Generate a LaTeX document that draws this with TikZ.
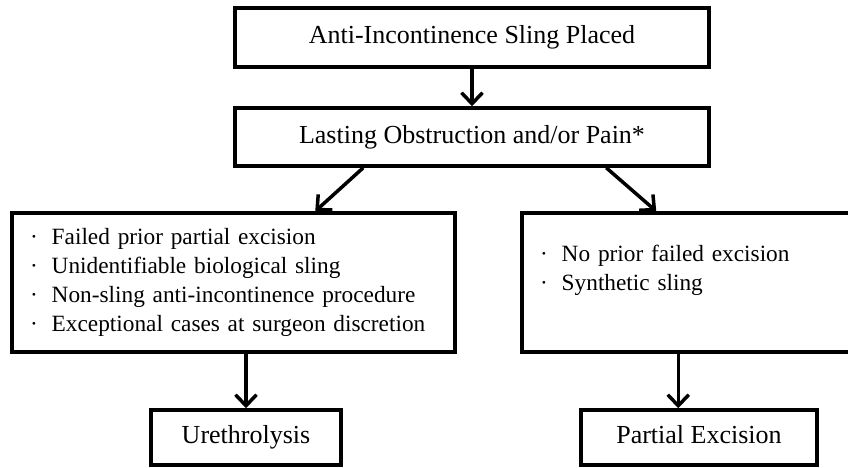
\documentclass[tikz,border=0pt]{standalone}
\usepackage{fontspec}
\setmainfont{Liberation Serif}
\usetikzlibrary{arrows.meta,calc}

\newcommand{\listdot}{\textperiodcentered\hspace{14pt}}

\begin{document}
\begin{tikzpicture}[x=1pt, y=-1pt,
  box/.style={draw, line width=3.5pt, font=\fontsize{26}{30}\selectfont, text height=18pt, text depth=6pt},
  listbox/.style={draw, line width=3.5pt, font=\fontsize{23.3}{29}\selectfont, align=left, inner xsep=18pt},
  arr/.style={line width=3.5pt, -{Straight Barb[length=11pt,width=21pt]}}]
\useasboundingbox (0,0) rectangle (848,468);

\node[box, minimum width=474pt, minimum height=59pt] (placed) at (472,37.5) {Anti-Incontinence Sling Placed};
\node[box, minimum width=474pt, minimum height=58pt] (lasting) at (472,137) {Lasting Obstruction and/or Pain*};
\node[listbox, text width=407pt, minimum height=139pt] (excl) at (233.5,282.5) {\listdot Failed prior partial excision\\ \listdot Unidentifiable biological sling\\ \listdot Non-sling anti-incontinence procedure\\ \listdot Exceptional cases at surgeon discretion};
\node[listbox, text width=300pt, minimum height=139pt] (incl) at (690,282.5) {\listdot No prior failed excision\\ \listdot Synthetic sling\\ \mbox{}};
\node[box, minimum width=190pt, minimum height=55pt] (ureth) at (246,437.5) {Urethrolysis};
\node[box, minimum width=236pt, minimum height=55pt] (partial) at (699,437.5) {Partial Excision};

\coordinate (incltap) at ([xshift=158pt]incl.south west);

\draw[arr] (placed) -- (lasting);
\draw[arr] ([xshift=130pt]lasting.south west) -- ([xshift=305pt]excl.north west);
\draw[arr] ([xshift=373pt]lasting.south west) -- ([xshift=136pt]incl.north west);
\draw[arr] (excl.south -| ureth.north) -- (ureth);
\draw[arr] (incltap) -- (incltap |- partial.north);
\end{tikzpicture}
\end{document}
